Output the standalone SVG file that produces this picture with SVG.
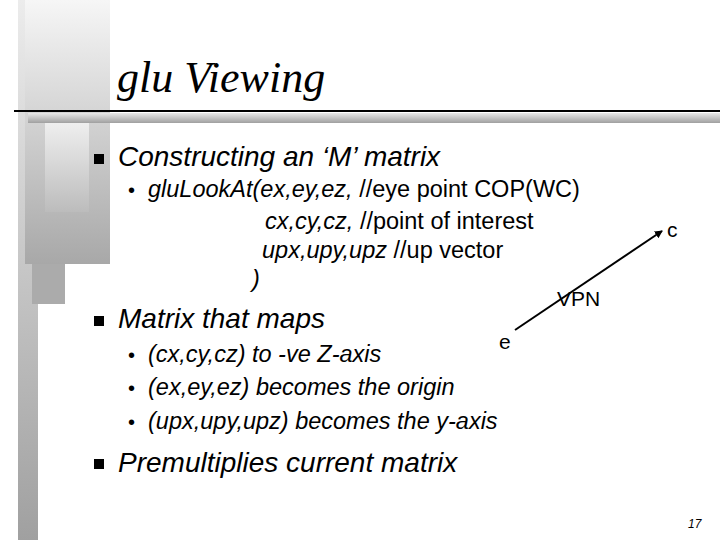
<svg xmlns="http://www.w3.org/2000/svg" width="720" height="540" viewBox="0 0 720 540">
<defs>
<linearGradient id="strip" x1="0" y1="0" x2="0" y2="1"><stop offset="0" stop-color="#ececec"/><stop offset="1" stop-color="#a0a0a0"/></linearGradient>
<linearGradient id="side" x1="0" y1="0" x2="0" y2="1"><stop offset="0" stop-color="#f6f6f6"/><stop offset="1" stop-color="#a8a8a8"/></linearGradient>
<linearGradient id="inner" x1="0" y1="0" x2="0" y2="1"><stop offset="0" stop-color="#f0f0f0"/><stop offset="1" stop-color="#bcbcbc"/></linearGradient>
<linearGradient id="bar" x1="0" y1="0" x2="0" y2="1"><stop offset="0" stop-color="#e8e8e8"/><stop offset="1" stop-color="#a0a0a0"/></linearGradient>
<marker id="ah" markerWidth="8" markerHeight="8" refX="7" refY="4" orient="auto" markerUnits="userSpaceOnUse"><path d="M0,0 L8,4 L0,8 z" fill="#000"/></marker>
<style>
.t{font-family:"Liberation Sans",Arial,sans-serif;font-style:italic;fill:#000}
.u{font-style:normal}
.n{font-family:"Liberation Sans",Arial,sans-serif;fill:#000}
</style>
</defs>
<rect width="720" height="540" fill="#fff"/>
<rect x="18" y="0" width="20" height="540" fill="url(#strip)"/>
<rect x="25" y="0" width="85" height="264" fill="url(#side)"/>
<rect x="45" y="120" width="44" height="92" fill="url(#inner)"/>
<rect x="32" y="264" width="33" height="40" fill="#ababab"/>
<rect x="28" y="113" width="692" height="10" fill="url(#bar)"/>
<line x1="14" y1="111" x2="720" y2="111" stroke="#000" stroke-width="2"/>
<text x="117" y="92" font-family="Liberation Serif,serif" font-style="italic" font-size="44">glu Viewing</text>
<g id="text">
<rect x="94" y="154" width="10" height="10" fill="#000"/>
<text class="t" x="118" y="166" font-size="28">Constructing an ‘M’ matrix</text>
<text class="n" x="128" y="197" font-size="20">•</text>
<text class="t" x="148" y="197" font-size="23.5">gluLookAt(ex,ey,ez, <tspan class="u">//eye point COP(WC)</tspan></text>
<text class="t" x="265" y="229" font-size="23.5">cx,cy,cz, <tspan class="u">//point of interest</tspan></text>
<text class="t" x="262" y="258" font-size="23.5">upx,upy,upz <tspan class="u">//up vector</tspan></text>
<text class="t" x="252" y="287" font-size="23.5">)</text>
<rect x="94" y="316" width="10" height="10" fill="#000"/>
<text class="t" x="118" y="328" font-size="28">Matrix that maps</text>
<text class="n" x="128" y="362" font-size="20">•</text>
<text class="t" x="148" y="362" font-size="23.5">(cx,cy,cz) to -ve Z-axis</text>
<text class="n" x="128" y="395" font-size="20">•</text>
<text class="t" x="148" y="395" font-size="23.5">(ex,ey,ez) becomes the origin</text>
<text class="n" x="128" y="429" font-size="20">•</text>
<text class="t" x="148" y="429" font-size="23.5">(upx,upy,upz) becomes the y-axis</text>
<rect x="94" y="459" width="10" height="10" fill="#000"/>
<text class="t" x="118" y="472" font-size="28">Premultiplies current matrix</text>
<text class="t" x="688" y="528" font-size="12">17</text>
</g>
<g id="connectors"><line x1="515" y1="330" x2="662" y2="231" stroke="#000" stroke-width="2" marker-end="url(#ah)"/></g>
<g id="c"><text class="n" x="667" y="237" font-size="21">c</text></g>
<g id="e"><text class="n" x="499" y="349" font-size="21">e</text></g>
<g id="vpn"><text class="n" x="557" y="306" font-size="21">VPN</text></g>
</svg>
